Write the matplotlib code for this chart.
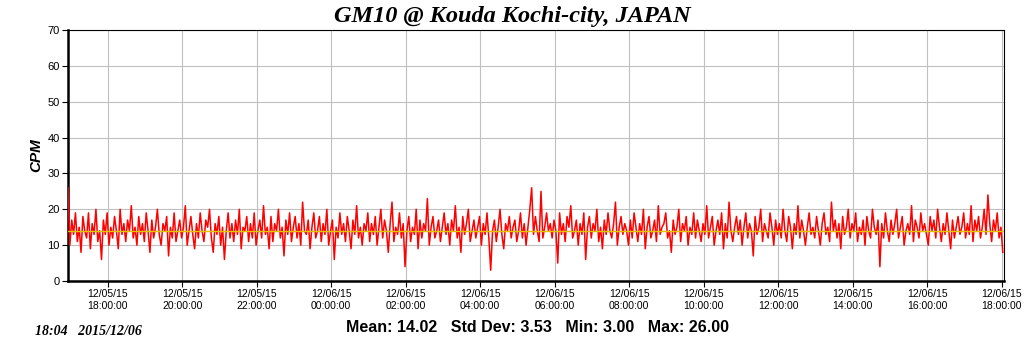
import datetime as dt

import matplotlib

matplotlib.use("Agg")
import matplotlib.dates as mdates
import matplotlib.pyplot as plt
import numpy as np

# CPM readings, one every 3 minutes, estimated from the reference trace
CPM = [
    26, 10, 17, 13, 19, 11, 15, 8, 18, 14, 12, 19, 9, 16, 13, 20, 11, 14, 6, 17,
    13, 19, 10, 15, 12, 18, 14, 9, 20, 13, 16, 11, 17, 14, 21, 12, 15, 10, 18, 13,
    16, 11, 19, 14, 8, 17, 12, 15, 20, 13, 10, 16, 14, 18, 7, 15, 12, 19, 11, 14,
    17, 12, 15, 21, 10, 14, 18, 13, 9, 16, 12, 19, 14, 11, 17, 15, 20, 12, 8, 16,
    13, 18, 10, 15, 6, 14, 19, 12, 16, 11, 17, 13, 20, 9, 15, 14, 18, 11, 16, 12,
    19, 10, 14, 17, 12, 21, 13, 15, 9, 18, 11, 16, 14, 20, 12, 15, 7, 17, 13, 19,
    11, 15, 18, 12, 16, 10, 22, 14, 13, 17, 9, 15, 19, 12, 14, 18, 11, 16, 13, 20,
    10, 14, 17, 6, 15, 12, 19, 13, 16, 11, 18, 14, 9, 17, 13, 21, 12, 15, 10, 16,
    14, 19, 11, 16, 13, 18, 10, 15, 20, 12, 17, 14, 8, 16, 22, 11, 15, 13, 19, 12,
    16, 4, 14, 18, 11, 15, 13, 20, 9, 17, 12, 16, 14, 23, 10, 15, 18, 12, 14, 17,
    11, 15, 19, 13, 16, 10, 17, 14, 21, 12, 15, 8, 18, 13, 16, 20, 11, 14, 17, 12,
    15, 18, 10, 16, 13, 19, 12, 3, 14, 17, 11, 15, 20, 13, 9, 16, 14, 18, 12, 15,
    17, 11, 14, 19, 12, 16, 10, 15, 20, 26, 13, 18, 14, 11, 25, 12, 15, 19, 14, 16,
    12, 17, 14, 5, 19, 13, 16, 11, 18, 15, 21, 12, 14, 17, 10, 16, 13, 19, 6, 15,
    18, 12, 16, 14, 20, 11, 15, 9, 17, 13, 19, 14, 12, 16, 22, 10, 15, 18, 13, 16,
    14, 10, 17, 12, 19, 15, 11, 16, 13, 20, 9, 15, 18, 12, 14, 17, 11, 21, 13, 15,
    16, 19, 12, 14, 8, 17, 13, 15, 20, 11, 16, 14, 18, 10, 15, 13, 19, 12, 17, 14,
    11, 16, 13, 21, 12, 15, 18, 10, 14, 17, 13, 19, 9, 16, 12, 22, 14, 11, 15, 18,
    13, 17, 10, 15, 19, 12, 16, 14, 7, 18, 13, 15, 20, 11, 16, 14, 12, 19, 15, 10,
    17, 13, 16, 12, 20, 14, 11, 18, 15, 9, 16, 13, 21, 12, 17, 14, 10, 15, 19, 13,
    15, 12, 18, 14, 10, 16, 19, 13, 15, 11, 22, 14, 17, 12, 16, 9, 18, 13, 15, 20,
    12, 16, 14, 19, 11, 15, 13, 17, 10, 18, 14, 12, 20, 15, 13, 17, 4, 16, 12, 19,
    14, 11, 17, 13, 16, 20, 12, 15, 18, 10, 14, 16, 13, 21, 11, 17, 15, 12, 19, 14,
    16, 13, 10, 18, 14, 17, 12, 20, 15, 11, 16, 13, 19, 14, 9, 17, 12, 15, 18, 13,
    15, 19, 12, 16, 13, 21, 11, 17, 14, 18, 12, 15, 20, 13, 24, 16, 11, 17, 14, 19,
    12, 15, 8,
]
START = dt.datetime(2015, 12, 5, 16, 56)
END = dt.datetime(2015, 12, 6, 18, 4)
STEP_MIN = 3

TITLE = "GM10 @ Kouda Kochi-city, JAPAN"
MEAN = 14.02
STATS = "Mean: 14.02   Std Dev: 3.53   Min: 3.00   Max: 26.00"
STAMP = "18:04   2015/12/06"

times = [START + dt.timedelta(minutes=STEP_MIN * i) for i in range(len(CPM))]

fig = plt.figure(figsize=(10.24, 3.51), dpi=100)
ax = fig.add_axes([0.0664, 0.1994, 0.9141, 0.7151])

ax.plot(times, CPM, color="#ff0000", lw=1.1, zorder=3)
ax.axhline(MEAN, color="#e8c000", lw=1.0, zorder=4)

ax.set_xlim(START, END)
ax.set_ylim(0, 70)
ax.set_yticks(np.arange(0, 71, 10))
ax.xaxis.set_major_locator(mdates.HourLocator(byhour=range(0, 24, 2)))
ax.xaxis.set_major_formatter(mdates.DateFormatter("%m/%d/%y\n%H:%M:%S"))

ax.grid(True, color="#c0c0c0", lw=0.8, zorder=0)
ax.tick_params(axis="x", labelsize=7.5, length=4, direction="out", pad=2)
ax.tick_params(axis="y", labelsize=8, length=4, direction="out", pad=2)
for lab in ax.get_xticklabels() + ax.get_yticklabels():
    lab.set_family("Liberation Sans")

for side in ("left", "bottom"):
    ax.spines[side].set_linewidth(1.8)
for side in ("top", "right"):
    ax.spines[side].set_linewidth(0.8)

ax.set_ylabel("CPM", fontsize=11, fontweight="bold", fontstyle="italic",
              family="Liberation Sans", labelpad=3)

fig.text(0.5, 0.952, TITLE, ha="center", va="center", fontsize=17.5,
         fontweight="bold", fontstyle="italic", family="Liberation Serif")
fig.text(0.525, 0.068, STATS, ha="center", va="center", fontsize=11.5,
         fontweight="bold", family="Liberation Sans")
fig.text(0.034, 0.055, STAMP, ha="left", va="center", fontsize=10,
         fontweight="bold", fontstyle="italic", family="Liberation Serif")

fig.savefig("out.png", dpi=100, facecolor="white")
